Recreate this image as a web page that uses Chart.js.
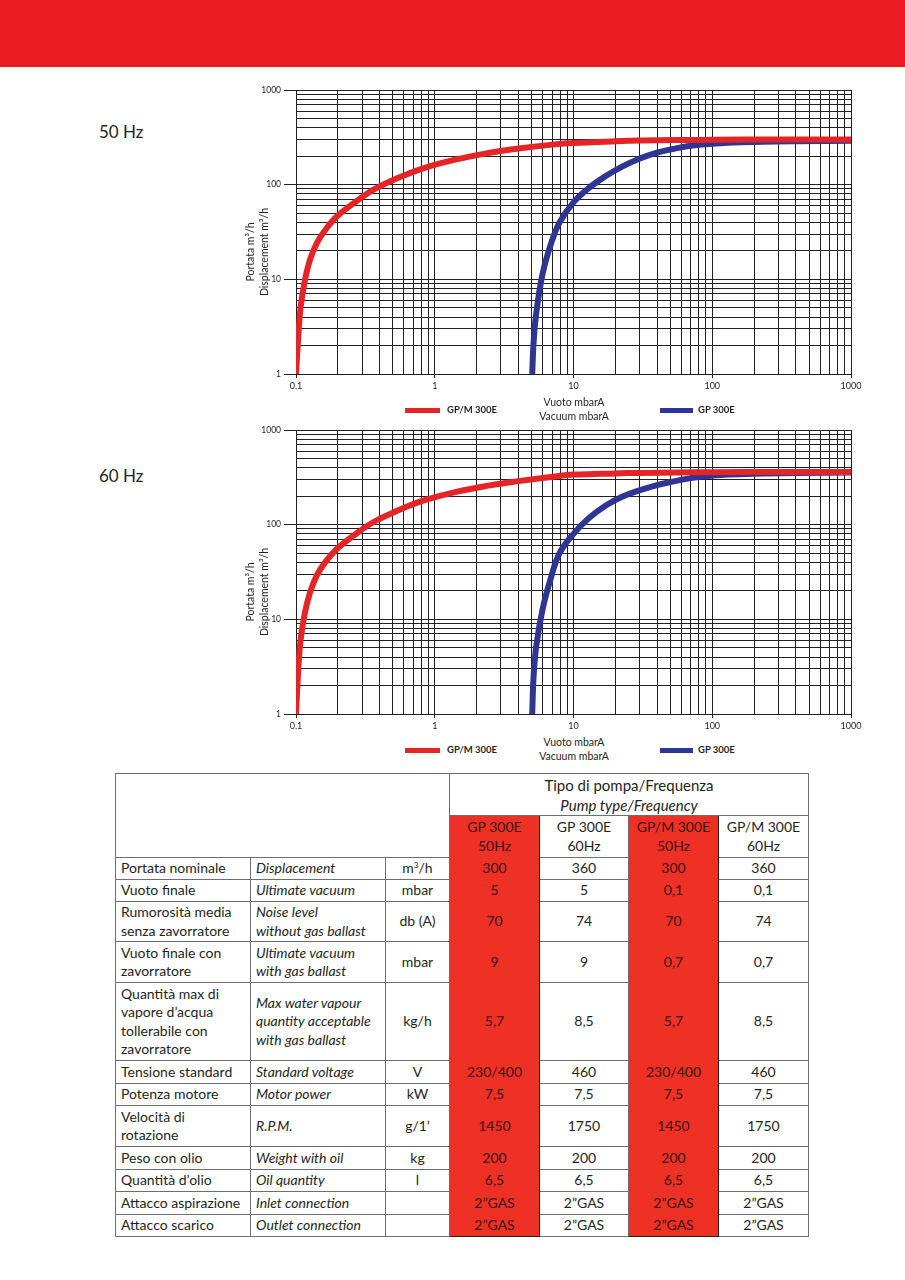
<!DOCTYPE html>
<html>
<head>
<meta charset="utf-8">
<script src="https://cdn.jsdelivr.net/npm/chart.js@4.4.0/dist/chart.umd.min.js"></script>
<style>
	body { margin: 0; width: 905px; height: 1280px; position: relative; background: #fff; overflow: hidden;
		font-family: Lato, "Open Sans", sans-serif; color: #231f20; }
	.band { position: absolute; left: 0; top: 0; width: 905px; height: 67px; background: #ed1c24; }
	.freq { position: absolute; left: 99px; font-size: 17px; line-height: 20px; }
	.chartbox { position: absolute; left: 236px; width: 630px; height: 309px; }
	.ytitle { position: absolute; width: 160px; height: 28px; text-align: center; font-size: 10.5px; line-height: 14px;
		transform: rotate(-90deg); }
	.xtitle { position: absolute; width: 160px; text-align: center; font-size: 10.5px; line-height: 14px; }
	.lg-line { position: absolute; height: 5px; }
	.lg-text { position: absolute; font-size: 9.5px; line-height: 12px; font-weight: bold; }
	table { position: absolute; left: 115px; top: 773px; border-collapse: collapse; table-layout: fixed;
		font-size: 14px; line-height: 18.5px; }
	td { border: 1px solid #6d6e71; padding: 0 5px; vertical-align: middle; }
	td.c { text-align: center; }
	td.r { background: #ee3124; color: #3a1212; text-align: center; border-top: none; border-bottom: none;
		border-left: 1px solid #231f20; border-right: 1px solid #231f20; }
	tr:last-child td.r { border-bottom: 1px solid #231f20; }
	td.hd { font-size: 15px; line-height: 20px; text-align: center; }
	i { font-style: italic; }
	sup { font-size: 8px; line-height: 0; vertical-align: 5px; }
</style>
</head>
<body>
<div class="band"></div>

<div class="freq" style="top:122px">50 Hz</div>
<div class="freq" style="top:466px">60 Hz</div>

<div class="chartbox" style="top:80px"><canvas id="chart50" width="630" height="309"></canvas></div>
<div class="chartbox" style="top:420px"><canvas id="chart60" width="630" height="309"></canvas></div>

<div id="overlay"></div>

<table>
	<colgroup>
		<col style="width:135px"><col style="width:135px"><col style="width:64px">
		<col style="width:90px"><col style="width:89px"><col style="width:90px"><col style="width:90px">
	</colgroup>
	<tr style="height:42px"><td colspan="3" rowspan="2"></td><td colspan="4" class="hd">Tipo di pompa/Frequenza<br><i>Pump type/Frequency</i></td></tr>
	<tr style="height:42px"><td class="r">GP 300E<br>50Hz</td><td class="c">GP 300E<br>60Hz</td><td class="r">GP/M 300E<br>50Hz</td><td class="c">GP/M 300E<br>60Hz</td></tr>
	<tr style="height:22px"><td>Portata nominale</td><td><i>Displacement</i></td><td class="c">m<sup>3</sup>/h</td><td class="r">300</td><td class="c">360</td><td class="r">300</td><td class="c">360</td></tr>
	<tr style="height:22px"><td>Vuoto finale</td><td><i>Ultimate vacuum</i></td><td class="c">mbar</td><td class="r">5</td><td class="c">5</td><td class="r">0,1</td><td class="c">0,1</td></tr>
	<tr style="height:40px"><td>Rumorosità media<br>senza zavorratore</td><td><i>Noise level<br>without gas ballast</i></td><td class="c">db (A)</td><td class="r">70</td><td class="c">74</td><td class="r">70</td><td class="c">74</td></tr>
	<tr style="height:41px"><td>Vuoto finale con<br>zavorratore</td><td><i>Ultimate vacuum<br>with gas ballast</i></td><td class="c">mbar</td><td class="r">9</td><td class="c">9</td><td class="r">0,7</td><td class="c">0,7</td></tr>
	<tr style="height:78px"><td>Quantità max di<br>vapore d’acqua<br>tollerabile con<br>zavorratore</td><td><i>Max water vapour<br>quantity acceptable<br>with gas ballast</i></td><td class="c">kg/h</td><td class="r">5,7</td><td class="c">8,5</td><td class="r">5,7</td><td class="c">8,5</td></tr>
	<tr style="height:23px"><td>Tensione standard</td><td><i>Standard voltage</i></td><td class="c">V</td><td class="r">230/400</td><td class="c">460</td><td class="r">230/400</td><td class="c">460</td></tr>
	<tr style="height:22px"><td>Potenza motore</td><td><i>Motor power</i></td><td class="c">kW</td><td class="r">7,5</td><td class="c">7,5</td><td class="r">7,5</td><td class="c">7,5</td></tr>
	<tr style="height:41px"><td>Velocità di<br>rotazione</td><td><i>R.P.M.</i></td><td class="c">g/1’</td><td class="r">1450</td><td class="c">1750</td><td class="r">1450</td><td class="c">1750</td></tr>
	<tr style="height:23px"><td>Peso con olio</td><td><i>Weight with oil</i></td><td class="c">kg</td><td class="r">200</td><td class="c">200</td><td class="r">200</td><td class="c">200</td></tr>
	<tr style="height:22px"><td>Quantità d’olio</td><td><i>Oil quantity</i></td><td class="c">l</td><td class="r">6,5</td><td class="c">6,5</td><td class="r">6,5</td><td class="c">6,5</td></tr>
	<tr style="height:23px"><td>Attacco aspirazione</td><td><i>Inlet connection</i></td><td class="c"></td><td class="r">2”GAS</td><td class="c">2”GAS</td><td class="r">2”GAS</td><td class="c">2”GAS</td></tr>
	<tr style="height:22px"><td>Attacco scarico</td><td><i>Outlet connection</i></td><td class="c"></td><td class="r">2”GAS</td><td class="c">2”GAS</td><td class="r">2”GAS</td><td class="c">2”GAS</td></tr>
</table>

<script>
(function () {
	'use strict';

	// ── Axis ticks ─────────────────────────────────────────
	var xDecades = [0.1, 1, 10, 100, 1000];
	var xTickLabels = ['0,1', '1', '10', '100', '1000'];
	var yDecades = [1, 10, 100, 1000];
	var yTickLabels = ['1', '10', '100', '1000'];

	var seriesNames = ['GP/M 300E', 'GP 300E'];
	var xTitle = ['Vuoto mbarA', 'Vacuum mbarA'];
	var yTitle = ['Portata m³/h', 'Displacement m³/h'];

	// ── 50 Hz curves (vacuum mbarA -> displacement m3/h) ───
	var gpm50Vacuum = [0.1, 0.1039, 0.108, 0.116, 0.126, 0.141, 0.162, 0.196, 0.258, 0.36, 0.53, 0.824, 1.43, 2.49, 3.76, 7.6, 10, 20, 30, 57, 100, 300, 1000];
	var gpm50Flow   = [1, 2.5, 5.1, 9.8, 16, 24, 33, 45.8, 63, 88, 116, 149, 185, 217, 238, 268, 276, 287, 292, 296, 298, 300, 300];
	var gp50Vacuum  = [5.04, 5.15, 5.39, 6.0, 6.9, 7.94, 10, 13, 17.2, 22.6, 29.8, 40, 51.8, 70, 90, 130, 195, 400, 1000];
	var gp50Flow    = [1, 2.1, 4.4, 11.6, 24, 40, 65, 93, 124, 156, 188, 218, 238, 258, 268, 277, 283, 288, 291];

	// ── 60 Hz curves ───────────────────────────────────────
	var gpm60Vacuum = [0.1, 0.1039, 0.108, 0.116, 0.126, 0.141, 0.162, 0.196, 0.258, 0.36, 0.53, 0.824, 1.43, 2.49, 3.76, 7.6, 10, 20, 30, 57, 100, 300, 1000];
	var gpm60Flow   = [1, 3.0, 6.1, 11.8, 19, 29, 40, 55, 76, 106, 139, 179, 222, 260, 285, 325, 338, 348, 352, 356, 358, 360, 360];
	var gp60Vacuum  = [5.04, 5.15, 5.39, 6.0, 6.9, 7.94, 10, 13, 17.2, 22.6, 29.8, 40, 51.8, 70, 90, 130, 195, 400, 1000];
	var gp60Flow    = [1, 2.4, 5.2, 13, 28, 50, 80, 118, 160, 198, 230, 262, 285, 310, 325, 338, 346, 352, 355];

	var red = '#e42527';
	var blue = '#2e3592';
	var ink = '#231f20';
	var font = 'Lato, "Open Sans", sans-serif';

	function logGrid(decades) {
		var out = [];
		decades.forEach(function (d, i) {
			if (i === decades.length - 1) { out.push(d); return; }
			for (var m = 1; m < 10; m++) {
				out.push(m === 1 ? d : +(d * m).toPrecision(6));
			}
		});
		return out;
	}

	function points(xs, ys) {
		return xs.map(function (x, i) { return { x: x, y: ys[i] }; });
	}

	function curve(label, xs, ys, color) {
		return {
			label: label,
			data: points(xs, ys),
			borderColor: color,
			borderWidth: 6,
			pointRadius: 0,
			tension: 0.4,
			borderCapStyle: 'butt'
		};
	}

	function makeChart(id, redX, redY, blueX, blueY) {
		var xGrid = logGrid(xDecades);
		var yGrid = logGrid(yDecades);

		return new Chart(document.getElementById(id), {
			type: 'line',
			data: {
				datasets: [
					curve(seriesNames[0], redX, redY, red),
					curve(seriesNames[1], blueX, blueY, blue)
				]
			},
			options: {
				responsive: false,
				animation: false,
				layout: { padding: { top: 10, right: 15, bottom: 0, left: 0 } },
				plugins: { legend: { display: false }, tooltip: { enabled: false } },
				scales: {
					x: {
						type: 'logarithmic',
						min: 0.1,
						max: 1000,
						afterBuildTicks: function (s) {
							s.ticks = xGrid.map(function (v) { return { value: v }; });
						},
						afterFit: function (s) {
							s.height = 15;
							s.paddingLeft = 0;
							s.paddingRight = 0;
						},
						ticks: {
							autoSkip: false,
							maxRotation: 0,
							padding: 3,
							color: ink,
							font: { family: font, size: 9 },
							callback: function (v) {
								var k = xDecades.indexOf(v);
								return k >= 0 ? xTickLabels[k] : '';
							}
						},
						grid: {
							color: ink,
							lineWidth: 1,
							tickLength: 4,
							tickColor: function (ctx) {
								return ctx.tick && xDecades.indexOf(ctx.tick.value) >= 0 ? ink : 'rgba(0,0,0,0)';
							}
						},
						border: { color: ink, width: 1 }
					},
					y: {
						type: 'logarithmic',
						min: 1,
						max: 1000,
						afterBuildTicks: function (s) {
							s.ticks = yGrid.map(function (v) { return { value: v }; });
						},
						afterFit: function (s) {
							s.width = 60;
							s.paddingTop = 0;
							s.paddingBottom = 0;
						},
						ticks: {
							autoSkip: false,
							padding: 3,
							color: ink,
							font: { family: font, size: 8.5 },
							callback: function (v) {
								var k = yDecades.indexOf(v);
								return k >= 0 ? yTickLabels[k] : '';
							}
						},
						grid: {
							color: ink,
							lineWidth: 1,
							tickLength: 12,
							tickColor: function (ctx) {
								return ctx.tick && yDecades.indexOf(ctx.tick.value) >= 0 ? ink : 'rgba(0,0,0,0)';
							}
						},
						border: { color: ink, width: 1 }
					}
				}
			}
		});
	}

	makeChart('chart50', gpm50Vacuum, gpm50Flow, gp50Vacuum, gp50Flow);
	makeChart('chart60', gpm60Vacuum, gpm60Flow, gp60Vacuum, gp60Flow);

	// ── Axis titles and legend as text ─────────────────────
	var overlay = document.getElementById('overlay');
	function add(cls, style, html) {
		var el = document.createElement('div');
		el.className = cls;
		el.setAttribute('style', style);
		if (html) { el.innerHTML = html; }
		overlay.appendChild(el);
	}

	[0, 340].forEach(function (dy) {
		add('ytitle', 'left:177px;top:' + (238 + dy) + 'px', yTitle.join('<br>'));
		add('xtitle', 'left:494px;top:' + (395 + dy) + 'px', xTitle.join('<br>'));
		add('lg-line', 'left:405px;width:35px;top:' + (408 + dy) + 'px;background:' + red);
		add('lg-text', 'left:447px;top:' + (404 + dy) + 'px', seriesNames[0]);
		add('lg-line', 'left:660px;width:33px;top:' + (408 + dy) + 'px;background:' + blue);
		add('lg-text', 'left:698px;top:' + (404 + dy) + 'px', seriesNames[1]);
	});
})();
</script>
</body>
</html>
